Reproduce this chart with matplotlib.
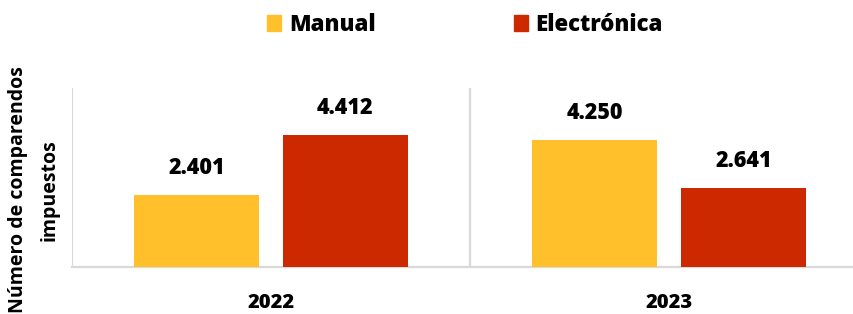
import matplotlib
matplotlib.use("Agg")
import matplotlib.pyplot as plt
import numpy as np
from matplotlib.patches import Patch

categories = ["2022", "2023"]
series_names = ["Manual", "Electrónica"]
manual = [2.401, 4.250]
electronica = [4.412, 2.641]
labels_manual = ["2.401", "4.250"]
labels_electronica = ["4.412", "2.641"]

colors = ["#FFC02B", "#CC2900"]
grid_color = "#D9D9D9"

W, H = 854, 314
fig = plt.figure(figsize=(W / 100, H / 100), dpi=100)
ax = fig.add_axes([72 / W, (H - 267) / H, (W - 72) / W, 179 / H])

x = np.arange(len(categories))
bw = 0.312
off = 0.187
b1 = ax.bar(x - off, manual, bw, color=colors[0], zorder=3)
b2 = ax.bar(x + off, electronica, bw, color=colors[1], zorder=3)

FONT = "Open Sans"
vfont = dict(family=FONT, weight="heavy", size=15.5)
for bars, labs in ((b1, labels_manual), (b2, labels_electronica)):
    for r, lab in zip(bars, labs):
        ax.annotate(lab, (r.get_x() + r.get_width() / 2, r.get_height()),
                    xytext=(0, 11), textcoords="offset points",
                    ha="center", va="bottom", **vfont)

ax.set_xlim(-0.5, -0.5 + (W - 72) / 398)
ax.set_ylim(0, 6)
ax.set_yticks([])
ax.set_xticks(x)
ax.set_xticklabels(categories, fontfamily=FONT, fontweight="heavy", fontsize=14.5)
ax.tick_params(axis="x", length=0, pad=19)

# category separators
for xs in [-0.5, 0.5]:
    ax.axvline(xs, color=grid_color, lw=1.6, zorder=1)
for s in ["top", "right", "left"]:
    ax.spines[s].set_visible(False)
ax.spines["bottom"].set_color(grid_color)
ax.spines["bottom"].set_linewidth(1.6)

fig.text(34 / W, 1 - 190 / H, "Número de comparendos\nimpuestos", rotation=90,
         ha="center", va="center", family=FONT, weight="bold",
         fontsize=14, linespacing=1.8, multialignment="center")

handles = [Patch(color=c) for c in colors]
fig.legend(handles, series_names, loc="center", bbox_to_anchor=(465 / W, 1 - 25 / H),
           ncol=2, frameon=False, handlelength=0.65, handleheight=0.7,
           handletextpad=0.35, columnspacing=6.2, borderpad=0,
           prop=dict(family=FONT, weight="heavy", size=16))

fig.savefig("out.png", dpi=100)
